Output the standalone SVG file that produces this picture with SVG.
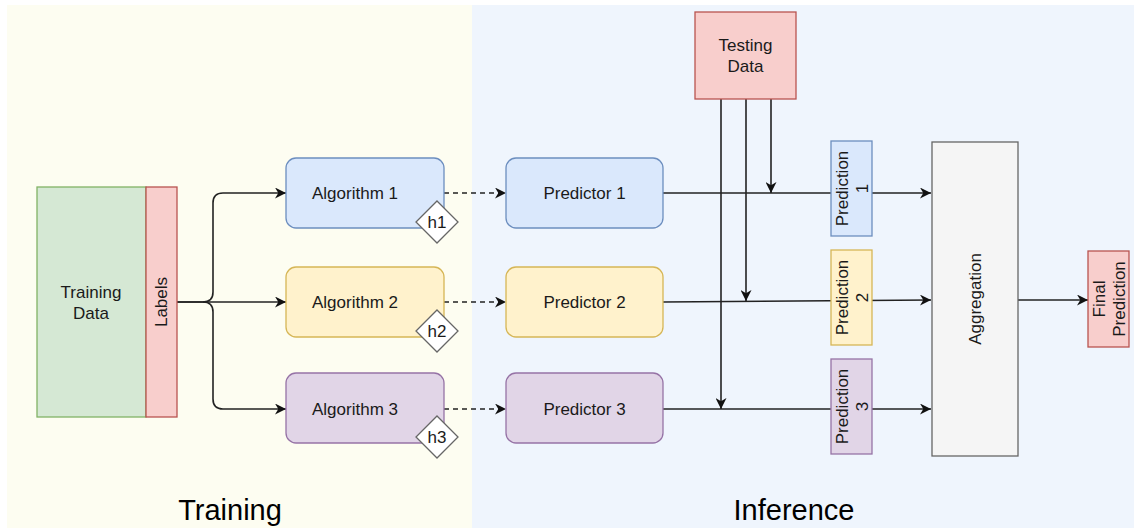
<svg xmlns="http://www.w3.org/2000/svg" width="1134" height="528" viewBox="0 0 1134 528">
<style>
text{font-family:"Liberation Sans",Arial,sans-serif;fill:#1a1a1a;font-size:17px;text-anchor:middle;dominant-baseline:central}
.big{font-size:29px;fill:#000}
.blue{fill:#dae8fc;stroke:#6c8ebf;stroke-width:1.3}
.yel{fill:#fff2cc;stroke:#d6b656;stroke-width:1.3}
.pur{fill:#e1d5e7;stroke:#9673a6;stroke-width:1.3}
.red{fill:#f8cecc;stroke:#b85450;stroke-width:1.3}
.grn{fill:#d5e8d4;stroke:#82b366;stroke-width:1.3}
.gry{fill:#f5f5f5;stroke:#666;stroke-width:1.3}
.dia{fill:#fff;stroke:#666;stroke-width:1.3}
.ln{fill:none;stroke:#222;stroke-width:1.6}
.dash{stroke-dasharray:5 4}
</style>
<defs>
<marker id="ah" viewBox="0 0 10 10" refX="10" refY="5" markerWidth="11" markerHeight="11" markerUnits="userSpaceOnUse" orient="auto">
<path d="M0,0 L10,5 L0,10 L3,5 Z" fill="#111"/>
</marker>
</defs>
<g id="panels">
<rect x="7" y="5" width="465" height="523" fill="#fdfdf1"/>
<rect x="472" y="5" width="662" height="523" fill="#eff5fd"/>
<text class="big" x="230" y="510">Training</text>
<text class="big" x="794" y="510">Inference</text>
</g>
<g id="connectors">
<path class="ln" d="M177,302 H203 Q213,302 213,292 V203 Q213,193 223,193 H286" marker-end="url(#ah)"/>
<path class="ln" d="M203,302 Q213,302 213,312 V399 Q213,409 223,409 H286" marker-end="url(#ah)"/>
<path class="ln" d="M177,302 H286" marker-end="url(#ah)"/>
<path class="ln dash" d="M444,193 H506" marker-end="url(#ah)"/>
<path class="ln dash" d="M444,302 H506" marker-end="url(#ah)"/>
<path class="ln dash" d="M444,409 H506" marker-end="url(#ah)"/>
<path class="ln" d="M663,193 H931" marker-end="url(#ah)"/>
<path class="ln" d="M663,302 L931,300" marker-end="url(#ah)"/>
<path class="ln" d="M663,409 H931" marker-end="url(#ah)"/>
<path class="ln" d="M771,99 V193" marker-end="url(#ah)"/>
<path class="ln" d="M746,99 V301" marker-end="url(#ah)"/>
<path class="ln" d="M721,99 V409" marker-end="url(#ah)"/>
<path class="ln" d="M1018,300 H1088" marker-end="url(#ah)"/>
</g>
<g id="training-data">
<rect class="grn" x="37" y="187" width="109" height="230"/>
<text x="91" y="292">Training</text>
<text x="91" y="313">Data</text>
</g>
<g id="labels">
<rect class="red" x="146" y="187" width="31" height="230"/>
<text transform="translate(161.5,302) rotate(-90)">Labels</text>
</g>
<g id="algorithm1">
<rect class="blue" x="286" y="158" width="158" height="70" rx="10"/>
<text x="355" y="193">Algorithm 1</text>
</g>
<g id="h1">
<path class="dia" d="M437,201 L458,222 L437,243 L416,222 Z"/>
<text x="437" y="222">h1</text>
</g>
<g id="algorithm2">
<rect class="yel" x="286" y="267" width="158" height="70" rx="10"/>
<text x="355" y="302">Algorithm 2</text>
</g>
<g id="h2">
<path class="dia" d="M437,310 L458,331 L437,352 L416,331 Z"/>
<text x="437" y="331">h2</text>
</g>
<g id="algorithm3">
<rect class="pur" x="286" y="373" width="158" height="70" rx="10"/>
<text x="355" y="409">Algorithm 3</text>
</g>
<g id="h3">
<path class="dia" d="M437,416 L458,437 L437,458 L416,437 Z"/>
<text x="437" y="437">h3</text>
</g>
<g id="predictor1">
<rect class="blue" x="506" y="158" width="157" height="70" rx="10"/>
<text x="584.5" y="193">Predictor 1</text>
</g>
<g id="predictor2">
<rect class="yel" x="506" y="267" width="157" height="70" rx="10"/>
<text x="584.5" y="302">Predictor 2</text>
</g>
<g id="predictor3">
<rect class="pur" x="506" y="373" width="157" height="70" rx="10"/>
<text x="584.5" y="409">Predictor 3</text>
</g>
<g id="testing-data">
<rect class="red" x="695" y="12" width="101" height="87"/>
<text x="745.5" y="45">Testing</text>
<text x="745.5" y="66">Data</text>
</g>
<g id="prediction1">
<rect class="blue" x="831" y="141" width="41" height="95"/>
<text transform="translate(851.5,188.5) rotate(-90)"><tspan x="0" y="-10">Prediction</tspan><tspan x="0" y="10">1</tspan></text>
</g>
<g id="prediction2">
<rect class="yel" x="831" y="250" width="41" height="95"/>
<text transform="translate(851.5,297.5) rotate(-90)"><tspan x="0" y="-10">Prediction</tspan><tspan x="0" y="10">2</tspan></text>
</g>
<g id="prediction3">
<rect class="pur" x="831" y="359" width="41" height="95"/>
<text transform="translate(851.5,406.5) rotate(-90)"><tspan x="0" y="-10">Prediction</tspan><tspan x="0" y="10">3</tspan></text>
</g>
<g id="aggregation">
<rect class="gry" x="932" y="142" width="86" height="314"/>
<text transform="translate(975,299) rotate(-90)">Aggregation</text>
</g>
<g id="final-prediction">
<rect class="red" x="1088" y="251" width="41" height="96"/>
<text transform="translate(1108.5,299) rotate(-90)"><tspan x="0" y="-10">Final</tspan><tspan x="0" y="10">Prediction</tspan></text>
</g>
</svg>
